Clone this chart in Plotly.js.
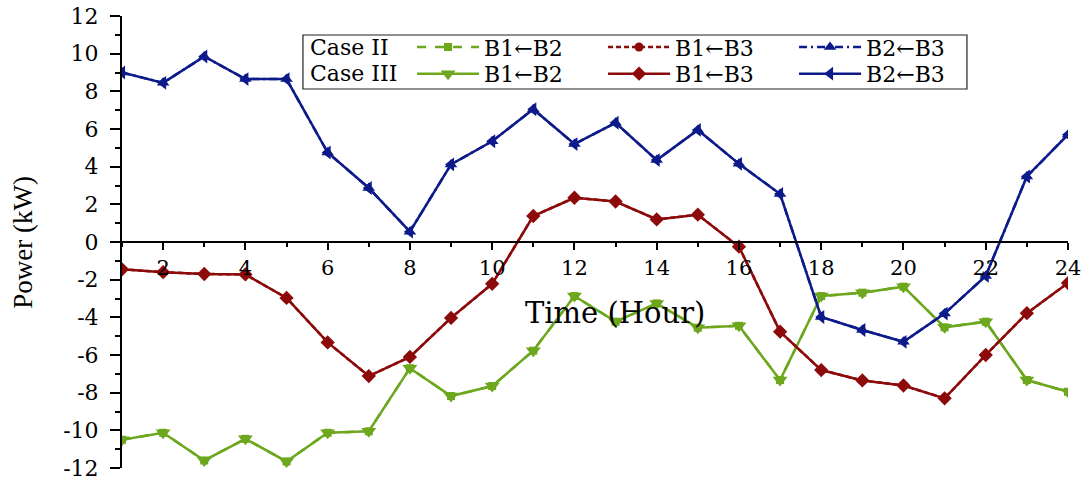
<!DOCTYPE html>
<html>
<head>
<meta charset="utf-8">
<script src="https://cdn.plot.ly/plotly-3.0.1.min.js"></script>
<style>
  html, body { margin: 0; padding: 0; background: #fff; }
  #chart { width: 1090px; height: 481px; }
</style>
</head>
<body>
<div id="chart"></div>
<script>
// Hourly power exchange between buses (kW)
const hours = [1, 2, 3, 4, 5, 6, 7, 8, 9, 10, 11, 12, 13, 14, 15, 16, 17, 18, 19, 20, 21, 22, 23, 24];

// Case III schedules
const case3_B1_B2 = [-10.5, -10.13, -11.6, -10.45, -11.65, -10.13, -10.05, -6.7, -8.18, -7.65, -5.77, -2.87,
                     -4.23, -3.26, -4.55, -4.45, -7.33, -2.87, -2.69, -2.37, -4.53, -4.23, -7.33, -7.95];
const case3_B1_B3 = [-1.45, -1.6, -1.7, -1.72, -2.97, -5.33, -7.12, -6.1, -4.03, -2.22, 1.38, 2.35,
                     2.15, 1.2, 1.45, -0.25, -4.76, -6.8, -7.35, -7.62, -8.3, -6.0, -3.78, -2.18];
const case3_B2_B3 = [9.0, 8.45, 9.85, 8.65, 8.65, 4.75, 2.87, 0.55, 4.12, 5.35, 7.05, 5.2,
                     6.33, 4.35, 5.95, 4.15, 2.55, -3.98, -4.67, -5.3, -3.8, -1.8, 3.48, 5.7];

// Case II schedules (identical hour by hour to Case III)
const case2_B1_B2 = case3_B1_B2.slice();
const case2_B1_B3 = case3_B1_B3.slice();
const case2_B2_B3 = case3_B2_B3.slice();

// Axis ticks
const yTickVals = [-12, -10, -8, -6, -4, -2, 0, 2, 4, 6, 8, 10, 12];
const yTickText = ['-12', '-10', '-8', '-6', '-4', '-2', '0', '2', '4', '6', '8', '10', '12'];
const yMinorVals = [-11, -9, -7, -5, -3, -1, 1, 3, 5, 7, 9, 11];
const xTickVals = [2, 4, 6, 8, 10, 12, 14, 16, 18, 20, 22, 24];
const xTickText = ['2', '4', '6', '8', '10', '12', '14', '16', '18', '20', '22', '24'];

const GREEN = '#6ca71e';
const RED = '#8c0a0a';
const NAVY = '#0c1a8a';
const SERIF = 'DejaVu Serif, Liberation Serif, serif';

function series(y, name, color, dash, symbol, size, legend) {
  return {
    x: hours, y: y, name: name, legend: legend,
    type: 'scatter', mode: 'lines+markers',
    line: { color: color, width: 2.5, dash: dash },
    marker: { color: color, symbol: symbol, size: size },
    cliponaxis: true
  };
}

const data = [
  series(case2_B1_B2, 'B1\u2190B2', GREEN, '9px,9px', 'square', 8, 'legend'),
  series(case2_B1_B3, 'B1\u2190B3', RED, '5px,3px', 'circle', 9, 'legend'),
  series(case2_B2_B3, 'B2\u2190B3', NAVY, '8px,4px,2px,4px', 'triangle-up', 11, 'legend'),
  series(case3_B1_B2, 'B1\u2190B2', GREEN, 'solid', 'triangle-down', 13, 'legend2'),
  series(case3_B1_B3, 'B1\u2190B3', RED, 'solid', 'diamond', 11, 'legend2'),
  series(case3_B2_B3, 'B2\u2190B3', NAVY, 'solid', 'triangle-left', 12, 'legend2')
];

const legendCommon = {
  orientation: 'h', xanchor: 'left', yanchor: 'middle',
  bgcolor: 'rgba(0,0,0,0)', borderwidth: 0,
  font: { family: SERIF, size: 22, color: '#000' },
  itemwidth: 62, entrywidth: 114, traceorder: 'normal'
};

const layout = {
  width: 1090, height: 481,
  margin: { l: 122, r: 22, t: 16, b: 13 },
  paper_bgcolor: '#fff', plot_bgcolor: '#fff',
  showlegend: true,
  legend: Object.assign({}, legendCommon, { x: 0.3066, y: 0.931 }),
  legend2: Object.assign({}, legendCommon, { x: 0.3066, y: 0.872 }),
  xaxis: {
    range: [1, 24], anchor: 'free', position: 0.5,
    showline: true, linecolor: '#000', linewidth: 2,
    showgrid: false, zeroline: false,
    tickmode: 'array', tickvals: xTickVals, ticktext: xTickText,
    ticks: 'outside', ticklen: 7, tickwidth: 2, tickcolor: '#000',
    minor: { dtick: 1, ticks: 'outside', ticklen: 4, tickwidth: 2, tickcolor: '#000', showgrid: false },
    tickfont: { family: SERIF, size: 21, color: '#000' }
  },
  yaxis: {
    range: [-12, 12],
    showline: true, linecolor: '#000', linewidth: 2,
    showgrid: false, zeroline: false,
    tickmode: 'array', tickvals: yTickVals, ticktext: yTickText,
    ticks: 'outside', ticklen: 10, tickwidth: 2, tickcolor: '#000',
    ticklabelstandoff: 7,
    minor: { tickvals: yMinorVals, ticks: 'outside', ticklen: 5, tickwidth: 2, tickcolor: '#000', showgrid: false },
    tickfont: { family: SERIF, size: 22, color: '#000' }
  },
  shapes: [{
    type: 'rect', xref: 'paper', yref: 'paper', layer: 'below',
    x0: 0.1913, x1: 0.8932, y0: 0.8385, y1: 0.958,
    line: { color: '#222', width: 1.2 }, fillcolor: '#fff'
  }],
  annotations: [
    { text: 'Case II', xref: 'paper', yref: 'paper', x: 0.197, y: 0.931, xanchor: 'left', yanchor: 'middle',
      showarrow: false, font: { family: SERIF, size: 22, color: '#000' } },
    { text: 'Case III', xref: 'paper', yref: 'paper', x: 0.197, y: 0.872, xanchor: 'left', yanchor: 'middle',
      showarrow: false, font: { family: SERIF, size: 22, color: '#000' } },
    { text: 'Time (Hour)', xref: 'paper', yref: 'paper', x: 0.521, y: 0.343, xanchor: 'center', yanchor: 'middle',
      showarrow: false, font: { family: SERIF, size: 29, color: '#000' } },
    { text: 'Power (kW)', xref: 'paper', yref: 'paper', x: -0.105, y: 0.5, xanchor: 'center', yanchor: 'middle',
      textangle: -90, showarrow: false, font: { family: 'Liberation Serif, serif', size: 27, color: '#000' } }
  ]
};

Plotly.newPlot('chart', data, layout, { displayModeBar: false, responsive: false });
</script>
</body>
</html>
